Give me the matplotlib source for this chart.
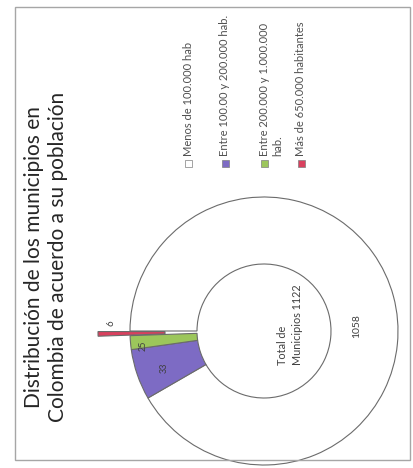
import numpy as np
import matplotlib
matplotlib.use("Agg")
import matplotlib.pyplot as plt
from matplotlib.patches import Rectangle

# data
categories = ["Menos de 100.000 hab",
              "Entre 100.00 y 200.000 hab.",
              "Entre 200.000 y 1.000.000\nhab.",
              "Más de 650.000 habitantes"]
values = [1058, 33, 25, 6]          # printed labels
slice_deg = [330, 22, 6, 2]         # slice sizes as they appear in the picture (degrees)
colors = ["#FFFFFF", "#7D6BC4", "#9CC65B", "#D9405E"]
title = "Distribución de los municipios en\nColombia de acuerdo a su población"
center_text = "Total de\nMunicipios 1122"

plt.rcParams['font.family'] = ['Lato', 'DejaVu Sans']

fig = plt.figure(figsize=(4.13, 4.68), dpi=100)
ax = fig.add_axes([0, 0, 1, 1])

# the whole chart is turned 90 degrees, so the ring starts on the left
cx, cy = 264, 137
r_out, r_in = 134, 67
wedges, _ = ax.pie(slice_deg, colors=colors, startangle=180, counterclock=False,
                   center=(cx, cy), radius=r_out,
                   explode=[0, 0, 0, 32],
                   wedgeprops=dict(width=r_out - r_in, edgecolor="#6B6B6B", linewidth=0.8))
ax.set_xlim(0, 413)
ax.set_ylim(0, 468)
ax.set_aspect('auto')
ax.axis('off')

# value labels along each slice
label_r = [93, 106, 122, 153]
label_turn = [-12, 1, 2, -4]
label_size = [7.5, 6.5, 6.5, 7]
for w, v, lr, lt, fs in zip(wedges, values, label_r, label_turn, label_size):
    ang = np.deg2rad((w.theta1 + w.theta2) / 2 + lt)
    ax.text(cx + lr * np.cos(ang), cy + lr * np.sin(ang), str(v), rotation=90,
            ha='center', va='center', fontsize=fs, color="#404040")

ax.text(290, 103, center_text, rotation=90, ha='center', va='bottom',
        fontsize=7.8, color="#404040", multialignment='left', linespacing=1.45)

ax.text(46, 211, title, rotation=90, ha='center', va='center',
        fontsize=15, color="#262626", multialignment='center', linespacing=1.25)

# legend, drawn by hand because it is turned too
leg_x = [188, 225, 264, 301]
for lx, cat, col in zip(leg_x, categories, colors):
    ax.add_patch(Rectangle((lx - 3.5, 301.5), 7, 7, facecolor=col, edgecolor="#7F7F7F", linewidth=0.5))
    ax.text(lx - 5.5, 312, cat, rotation=90, ha='left', va='bottom',
            fontsize=8, color="#505050", linespacing=1.3)

# chart frame
ax.add_patch(Rectangle((15, 8), 395, 453, fill=False, edgecolor="#A6A6A6", linewidth=1.0))

fig.savefig("out.png", dpi=100)
